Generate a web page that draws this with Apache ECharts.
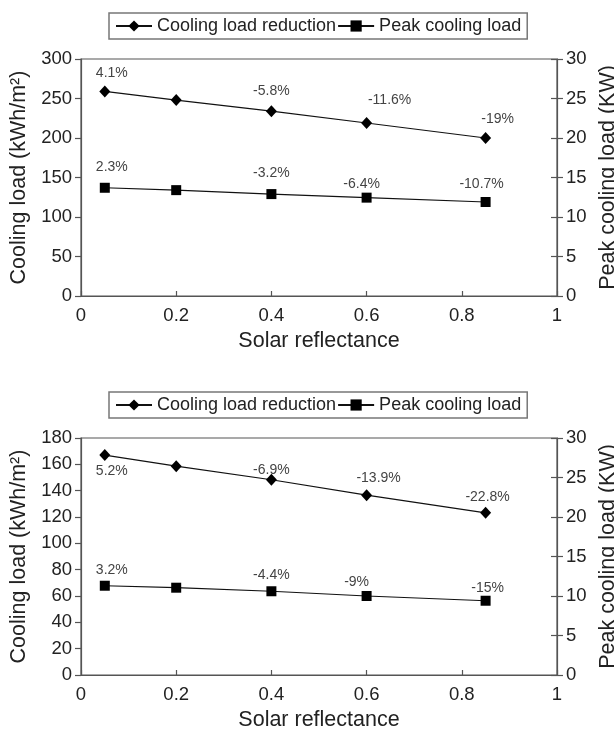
<!DOCTYPE html>
<html>
<head>
<meta charset="utf-8">
<script src="https://cdn.jsdelivr.net/npm/echarts@6/dist/echarts.min.js"></script>
<style>
html, body { margin: 0; padding: 0; background: #fff; }
#main { width: 614px; height: 742px; }
</style>
</head>
<body>
<div id="main"></div>
<script>
// data
var reflectance = [0.05, 0.2, 0.4, 0.6, 0.85];

// upper panel
var coolingTop = [259, 248, 234, 219, 200];
var peakTop = [13.7, 13.4, 12.9, 12.45, 11.9];
var coolingTopPct = ['4.1%', '', '-5.8%', '-11.6%', '-19%'];
var peakTopPct = ['2.3%', '', '-3.2%', '-6.4%', '-10.7%'];

// lower panel
var coolingBot = [167, 158.6, 148.3, 136.6, 123.2];
var peakBot = [11.3, 11.05, 10.6, 10.0, 9.4];
var coolingBotPct = ['5.2%', '', '-6.9%', '-13.9%', '-22.8%'];
var peakBotPct = ['3.2%', '', '-4.4%', '-9%', '-15%'];

var xTicks = [0, 0.2, 0.4, 0.6, 0.8, 1];

// label shifts (px, from point centre) - layout only
var shiftCoolTop = [[7, -18], [0, 0], [0, -20], [23, -23], [12, -19]];
var shiftPeakTop = [[7, -21], [0, 0], [0, -21], [-5, -14], [-4, -18]];
var shiftCoolBot = [[7, 16], [0, 0], [0, -10], [12, -17], [2, -16]];
var shiftPeakBot = [[7, -16], [0, 0], [0, -16], [-10, -14], [2, -13]];

var FONT = 'Liberation Sans, Arial, sans-serif';
var AXIS_C = '#555';
var TEXT_C = '#222';
var NAMES = ['Cooling load reduction', 'Peak cooling load'];

function buildData(vals, pct, shift) {
	var out = [];
	for (var i = 0; i < vals.length; i++) {
		out.push({
			value: [reflectance[i], vals[i]],
			label: {
				show: pct[i] !== '',
				formatter: pct[i],
				position: 'inside',
				offset: shift[i]
			}
		});
	}
	return out;
}

function yAxis(gridIndex, pos, max, interval, name, gap) {
	return {
		type: 'value', gridIndex: gridIndex, position: pos,
		min: 0, max: max, interval: interval,
		name: name, nameLocation: 'middle', nameGap: gap,
		nameTextStyle: { fontFamily: FONT, fontSize: 21.5, color: TEXT_C },
		axisLine: { show: true, lineStyle: { color: AXIS_C, width: 1.2 } },
		axisTick: { show: true, inside: false, length: 6, lineStyle: { color: AXIS_C, width: 1.2 } },
		axisLabel: { fontFamily: FONT, fontSize: 18.5, color: TEXT_C, margin: 9 },
		splitLine: { show: false }
	};
}

// inside ticks on the right axis so they cross the line
function yCross(gridIndex, max, interval) {
	return {
		type: 'value', gridIndex: gridIndex, position: 'right',
		min: 0, max: max, interval: interval,
		axisLine: { show: false },
		axisTick: { show: true, inside: true, length: 6, lineStyle: { color: AXIS_C, width: 1.2 } },
		axisLabel: { show: false },
		splitLine: { show: false }
	};
}

function xAxis(gridIndex) {
	return {
		type: 'value', gridIndex: gridIndex,
		min: xTicks[0], max: xTicks[xTicks.length - 1], interval: 0.2,
		name: 'Solar reflectance', nameLocation: 'middle', nameGap: 34,
		nameTextStyle: { fontFamily: FONT, fontSize: 21.5, color: TEXT_C },
		axisLine: { show: true, onZero: false, lineStyle: { color: AXIS_C, width: 1.2 } },
		axisTick: { show: true, inside: true, length: 5, lineStyle: { color: AXIS_C, width: 1.2 } },
		axisLabel: { fontFamily: FONT, fontSize: 18.5, color: TEXT_C, margin: 10 },
		splitLine: { show: false }
	};
}

function legend(top) {
	return {
		top: top, left: 109,
		data: NAMES,
		itemWidth: 36, itemHeight: 14, itemGap: 1,
		padding: [4, 6, 4, 6],
		borderColor: '#777', borderWidth: 1.5,
		textStyle: { fontFamily: FONT, fontSize: 18, color: TEXT_C }
	};
}

function series(name, xIdx, yIdx, data, symbol, size) {
	return {
		name: name, type: 'line', xAxisIndex: xIdx, yAxisIndex: yIdx,
		data: data, symbol: symbol, symbolSize: size,
		lineStyle: { color: '#111', width: 1.2 },
		itemStyle: { color: '#000' },
		label: { fontFamily: FONT, fontSize: 14, color: '#444' },
		animation: false
	};
}

function grid(top) {
	return {
		left: 81, right: 57, top: top, height: 237,
		outerBoundsMode: 'none', containLabel: false,
		show: true, borderColor: AXIS_C, borderWidth: 1.2
	};
}

var chart = echarts.init(document.getElementById('main'));
chart.setOption({
	backgroundColor: '#fff',
	animation: false,
	legend: [legend(13), legend(392)],
	grid: [grid(59), grid(438)],
	xAxis: [xAxis(0), xAxis(1)],
	yAxis: [
		yAxis(0, 'left', 300, 50, 'Cooling load (kWh/m\u00b2)', 51),
		yAxis(0, 'right', 30, 5, 'Peak cooling load (KW)', 40),
		yCross(0, 30, 5),
		yAxis(1, 'left', 180, 20, 'Cooling load (kWh/m\u00b2)', 51),
		yAxis(1, 'right', 30, 5, 'Peak cooling load (KW)', 40),
		yCross(1, 30, 5)
	],
	series: [
		series(NAMES[0], 0, 0, buildData(coolingTop, coolingTopPct, shiftCoolTop), 'diamond', [11, 12]),
		series(NAMES[1], 0, 1, buildData(peakTop, peakTopPct, shiftPeakTop), 'rect', 10),
		series(NAMES[0], 1, 3, buildData(coolingBot, coolingBotPct, shiftCoolBot), 'diamond', [11, 12]),
		series(NAMES[1], 1, 4, buildData(peakBot, peakBotPct, shiftPeakBot), 'rect', 10)
	]
});
</script>
</body>
</html>
